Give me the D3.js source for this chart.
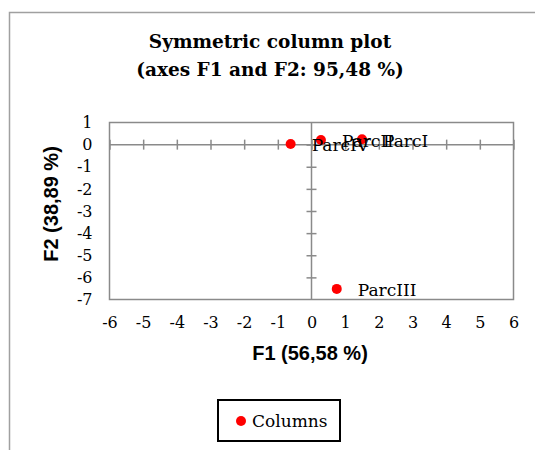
<!DOCTYPE html>
<html>
<head>
<meta charset="utf-8">
<script src="https://cdn.jsdelivr.net/npm/d3@7"></script>
<style>
  body { margin: 0; background: #fff; }
  svg { display: block; }
</style>
</head>
<body>
<div id="chart"></div>
<script>
// Data
const labels = ["ParcI", "ParcII", "ParcIII", "ParcIV"];
const f1 = [1.50, 0.28, 0.75, -0.62];
const f2 = [0.24, 0.21, -6.52, 0.03];
const xTicks = [-6, -5, -4, -3, -2, -1, 0, 1, 2, 3, 4, 5, 6];
const yTicks = [1, 0, -1, -2, -3, -4, -5, -6, -7];

const points = labels.map((name, i) => ({ name, x: f1[i], y: f2[i] }));

const W = 535, H = 450;
const serif = "'DejaVu Serif', serif";
const sans = "'Liberation Sans', Arial, sans-serif";
const gray = "#8a8a8a";

const svg = d3.select("#chart").append("svg")
    .attr("width", W)
    .attr("height", H);

// outer chart frame (top and left edges visible)
svg.append("path")
    .attr("d", `M9.5,${H} L9.5,12.5 L${W},12.5`)
    .attr("fill", "none")
    .attr("stroke", "#a0a0a0")
    .attr("stroke-width", 1.5);

// Scales
const x = d3.scaleLinear().domain([-6, 6]).range([109.5, 513.5]);
const y = d3.scaleLinear().domain([-7, 1]).range([299.5, 122.5]);

// Title
const title = svg.append("text")
    .attr("text-anchor", "middle")
    .style("font-family", serif)
    .style("font-weight", "bold")
    .style("font-size", "18.5px")
    .attr("fill", "#000");
title.append("tspan").attr("x", 270).attr("y", 48).text("Symmetric column plot");
title.append("tspan").attr("x", 270).attr("y", 76).text("(axes F1 and F2: 95,48 %)");

// Plot area border
svg.append("rect")
    .attr("x", x(-6))
    .attr("y", y(1))
    .attr("width", x(6) - x(-6))
    .attr("height", y(-7) - y(1))
    .attr("fill", "none")
    .attr("stroke", gray)
    .attr("stroke-width", 1.5);

// zero lines with crossing ticks
const hAxis = svg.append("g")
    .attr("transform", `translate(0,${y(0) - 5})`)
    .call(d3.axisBottom(x).tickValues(xTicks).tickSizeInner(10).tickSizeOuter(0).tickFormat(""));
hAxis.select(".domain").remove();
svg.append("line")
    .attr("x1", x(-6)).attr("x2", x(6))
    .attr("y1", y(0)).attr("y2", y(0));

const vAxis = svg.append("g")
    .attr("transform", `translate(${x(0) - 5},0)`)
    .call(d3.axisRight(y).tickValues(yTicks.filter(d => d > -7 && d < 1)).tickSizeInner(10).tickSizeOuter(0).tickFormat(""));
vAxis.select(".domain").remove();
svg.append("line")
    .attr("x1", x(0)).attr("x2", x(0))
    .attr("y1", y(1)).attr("y2", y(-7));

svg.selectAll("line")
    .attr("stroke", gray)
    .attr("stroke-width", 1.5);

// tick labels
const xLab = svg.append("g")
    .attr("transform", `translate(0,${y(-7)})`)
    .call(d3.axisBottom(x).tickValues(xTicks).tickSize(0).tickPadding(17).tickFormat(d3.format("d")));
xLab.select(".domain").remove();

const yLab = svg.append("g")
    .attr("transform", `translate(${x(-6)},0)`)
    .call(d3.axisLeft(y).tickValues(yTicks).tickSize(0).tickPadding(17).tickFormat(d3.format("d")));
yLab.select(".domain").remove();

svg.selectAll(".tick text")
    .style("font-family", serif)
    .style("font-size", "16px")
    .attr("fill", "#000");
xLab.selectAll(".tick text").text(d => d < 0 ? "-" + Math.abs(d) : d);
yLab.selectAll(".tick text").text(d => d < 0 ? "-" + Math.abs(d) : d);

// Axis titles
svg.append("text")
    .attr("x", 310)
    .attr("y", 360)
    .attr("text-anchor", "middle")
    .style("font-family", sans)
    .style("font-weight", "bold")
    .style("font-size", "20px")
    .text("F1 (56,58 %)");

svg.append("text")
    .attr("transform", "translate(58,204) rotate(-90)")
    .attr("text-anchor", "middle")
    .style("font-family", sans)
    .style("font-weight", "bold")
    .style("font-size", "20px")
    .text("F2 (38,89 %)");

// Points
svg.selectAll(".pt")
    .data(points)
    .join("circle")
    .attr("class", "pt")
    .attr("cx", d => x(d.x))
    .attr("cy", d => y(d.y))
    .attr("r", 5)
    .attr("fill", "#ff0000");

svg.selectAll(".pt-label")
    .data(points)
    .join("text")
    .attr("class", "pt-label")
    .attr("x", d => x(d.x) + 21)
    .attr("y", d => y(d.y) + 7.5)
    .style("font-family", serif)
    .style("font-size", "17px")
    .attr("fill", "#000")
    .text(d => d.name);

// Legend
const legend = svg.append("g").attr("transform", "translate(218,400)");
legend.append("rect")
    .attr("width", 122)
    .attr("height", 41)
    .attr("fill", "#fff")
    .attr("stroke", "#000")
    .attr("stroke-width", 2);
legend.append("circle")
    .attr("cx", 23)
    .attr("cy", 21)
    .attr("r", 5)
    .attr("fill", "#ff0000");
legend.append("text")
    .attr("x", 34)
    .attr("y", 27)
    .style("font-family", serif)
    .style("font-size", "17px")
    .text("Columns");
</script>
</body>
</html>
